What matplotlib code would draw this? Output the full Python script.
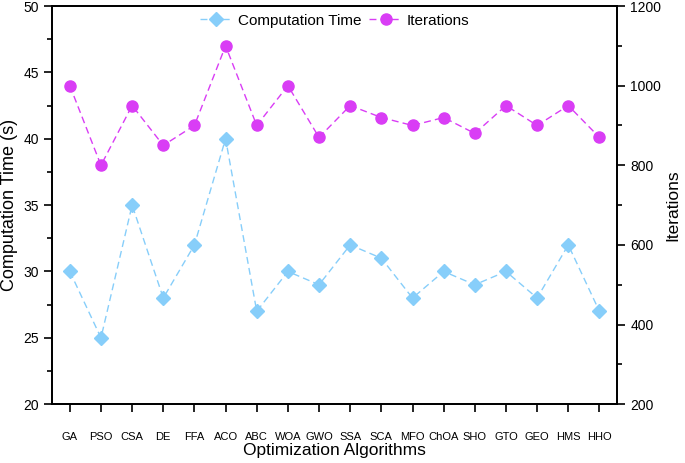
import matplotlib
matplotlib.use("Agg")
import matplotlib.pyplot as plt
from matplotlib.ticker import MultipleLocator

plt.rcParams['font.family'] = ['Liberation Sans', 'DejaVu Sans']

algorithms = ["GA", "PSO", "CSA", "DE", "FFA", "ACO", "ABC", "WOA", "GWO",
              "SSA", "SCA", "MFO", "ChOA", "SHO", "GTO", "GEO", "HMS", "HHO"]
comp_time = [30, 25, 35, 28, 32, 40, 27, 30, 29, 32, 31, 28, 30, 29, 30, 28, 32, 27]
iterations = [1000, 800, 950, 850, 900, 1100, 900, 1000, 870, 950, 920, 900,
              920, 880, 950, 900, 950, 870]

ct_color = '#87cefa'
it_color = '#d93df5'

fig = plt.figure(figsize=(6.85, 4.63), dpi=100)
ax = fig.add_axes([0.076, 0.127, 0.825, 0.86])
ax2 = ax.twinx()

x = list(range(len(algorithms)))
l1, = ax.plot(x, comp_time, linestyle=(0, (5, 3)), color=ct_color, marker='D',
              markersize=7, linewidth=1, label='Computation Time')
l2, = ax2.plot(x, iterations, linestyle=(0, (5, 3)), color=it_color, marker='o',
               markersize=8, linewidth=1, label='Iterations')

ax.set_xlim(-0.57, len(algorithms) - 0.43)
ax.set_ylim(20, 50)
ax2.set_ylim(200, 1200)
ax.set_xticks(x)
ax.set_xticklabels(algorithms, fontsize=8)
ax.yaxis.set_major_locator(MultipleLocator(5))
ax.yaxis.set_minor_locator(MultipleLocator(2.5))
ax2.yaxis.set_major_locator(MultipleLocator(200))
ax2.yaxis.set_minor_locator(MultipleLocator(100))

ax.tick_params(axis='y', which='major', direction='out', length=6, width=1.2, labelsize=10)
ax.tick_params(axis='y', which='minor', direction='out', length=3.5, width=1.2)
ax.tick_params(axis='x', which='major', direction='out', length=6, width=1.2, pad=14)
ax2.tick_params(axis='y', which='major', direction='out', length=6, width=1.2, labelsize=10)
ax2.tick_params(axis='y', which='minor', direction='out', length=3.5, width=1.2)

for a in (ax, ax2):
    for s in a.spines.values():
        s.set_linewidth(1.3)

ax.set_xlabel('Optimization Algorithms', fontsize=12.5, labelpad=1)
ax.set_ylabel('Computation Time (s)', fontsize=13, labelpad=4)
ax2.set_ylabel('Iterations', fontsize=12.5, labelpad=3)

ax.legend([l1, l2], ['Computation Time', 'Iterations'], loc='upper center',
          ncol=2, frameon=False, fontsize=11, handlelength=2.2,
          columnspacing=0.5, handletextpad=0.3, borderaxespad=0.1)

fig.savefig('out.png', dpi=100)
